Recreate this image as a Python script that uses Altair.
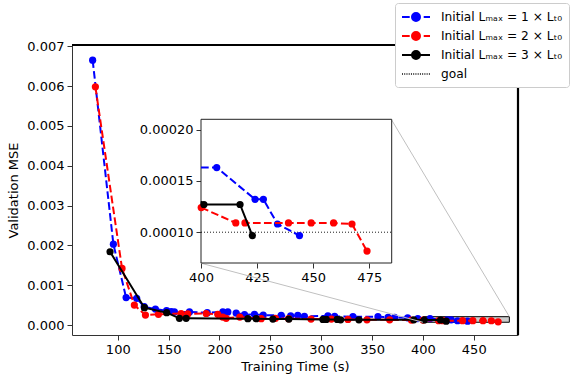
import altair as alt
import pandas as pd

# ---------------- data ----------------
t1 = [75.3, 95.7, 108.2, 118.6, 126.0, 137.0, 148.0, 152.5, 155.7, 170.5, 188.0, 203.3, 208.2,
      216.4, 224.6, 234.4, 243.0, 260.7, 270.0, 277.0, 283.5, 306.6, 313.2, 331.2, 355.8, 365.7,
      372.2, 385.0, 395.0, 407.0, 424.1, 427.8, 434.1, 443.9]
v1 = [0.00665, 0.00203, 0.00069, 0.00067, 0.00046, 0.00040, 0.00036, 0.00034, 0.00033, 0.00033,
      0.00031, 0.00033, 0.00033, 0.00030, 0.00026, 0.00027, 0.00025, 0.00024, 0.00023, 0.00024,
      0.00022, 0.00023, 0.00022, 0.00021, 0.00021, 0.000195, 0.000195, 0.00018, 0.000163,
      0.000163, 0.000132, 0.000132, 0.000108, 0.0000967]

t2 = [78.0, 104.2, 116.3, 127.2, 140.0, 162.3, 168.8, 186.9, 198.3, 203.2, 206.6, 220.0, 241.0,
      255.0, 268.0, 290.0, 310.0, 326.3, 345.0, 367.3, 388.7, 400.1, 415.5, 419.6, 439.0, 449.1,
      459.1, 467.3, 474.0]
v2 = [0.00598, 0.00142, 0.00050, 0.00025, 0.00027, 0.00029, 0.00028, 0.00029, 0.00027, 0.00020,
      0.00017, 0.00020, 0.00016, 0.00017, 0.00016, 0.00015, 0.00015, 0.00014, 0.00013, 0.00013,
      0.000125, 0.000124, 0.000109, 0.000109, 0.000109, 0.000109, 0.000109, 0.000108, 0.0000816]

t3 = [92.4, 126.2, 148.1, 160.6, 167.2, 227.9, 236.1, 252.5, 268.2, 301.7, 305.0, 315.8, 319.1,
      337.1, 391.0, 401.3, 417.4, 422.9]
v3 = [0.00184, 0.000435, 0.00031, 0.000168, 0.000168, 0.00016, 0.00016, 0.00015, 0.00015,
      0.00014, 0.00014, 0.00014, 0.00013, 0.00013, 0.00013, 0.000127, 0.000127, 0.0000967]

series_names = ["Initial Lₘₐₓ = 1 × Lₜ₀", "Initial Lₘₐₓ = 2 × Lₜ₀", "Initial Lₘₐₓ = 3 × Lₜ₀"]
goal_label = "goal"
goal_value = 0.0001
colors = ["#0000ff", "#ff0000", "#000000"]
dashes = [[7.7, 3.3], [7.7, 3.3], None]

x_ticks_main = [100, 150, 200, 250, 300, 350, 400, 450]
y_ticks_main = [0.000, 0.001, 0.002, 0.003, 0.004, 0.005, 0.006, 0.007]
x_ticks_inset = [400, 425, 450, 475]
y_ticks_inset = [0.00010, 0.00015, 0.00020]

main_xlim = [55, 493.5]
main_ylim = [-0.00025, 0.00703]
inset_xlim = [400, 485]
inset_ylim = [0.00007, 0.00021]

rows = []
for name, ts, vs in zip(series_names, [t1, t2, t3], [v1, v2, v3]):
    for t, v in zip(ts, vs):
        rows.append({"t": t, "mse": v, "series": name})
df = pd.DataFrame(rows)

FONT = "DejaVu Sans"
W, H = 446, 290

# ---------------- scales / axes ----------------
xs_main = alt.Scale(domain=main_xlim, nice=False, zero=False)
ys_main = alt.Scale(domain=main_ylim, nice=False, zero=False)
ax_main_x = alt.Axis(orient="bottom", values=x_ticks_main, format="d", grid=False,
                     title="Training Time (s)", domainColor="#333", tickColor="#333",
                     tickSize=5, labelPadding=3, titlePadding=4, labelFlush=False)
ax_main_y = alt.Axis(orient="left", values=y_ticks_main, format=".3f", grid=False,
                     title="Validation MSE", domainColor="#333", tickColor="#333",
                     tickSize=5, labelPadding=3, titlePadding=6, labelFlush=False)

# inset placed inside the plot area through its own scale ranges
xs_in = alt.Scale(domain=inset_xlim, range=[129, 319.7], nice=False, zero=False, clamp=True)
ys_in = alt.Scale(domain=inset_ylim, range=[218, 74.3], nice=False, zero=False, clamp=True)
ax_in_x = alt.Axis(orient="bottom", offset=-72, values=x_ticks_inset, format="d", grid=False,
                   title=None, domain=False, tickColor="#333", tickSize=5, labelPadding=3,
                   labelFlush=False)
ax_in_y = alt.Axis(orient="left", offset=-129, values=y_ticks_inset, format=".5f", grid=False,
                   title=None, domain=False, tickColor="#333", tickSize=5, labelPadding=3,
                   labelFlush=False)

base = alt.Chart(df)

def X(scale, axis, field="t"):
    return alt.X(field, type="quantitative", scale=scale, axis=axis)

def Y(scale, axis, field="mse"):
    return alt.Y(field, type="quantitative", scale=scale, axis=axis)

# ---------------- main panel ----------------
zoom_rect = alt.Chart(pd.DataFrame({"a": [0]})).mark_rect(
    fill="#cccccc", stroke="#000000", strokeWidth=1
).encode(
    x=alt.XDatum(inset_xlim[0], scale=xs_main, axis=ax_main_x),
    x2=alt.X2Datum(inset_xlim[1]),
    y=alt.YDatum(inset_ylim[0], scale=ys_main, axis=ax_main_y),
    y2=alt.Y2Datum(inset_ylim[1]),
)

main_series = []
for name, col, dash in zip(series_names, colors, dashes):
    sub = base.transform_filter(alt.datum.series == name)
    lkw = dict(color=col, strokeWidth=2, clip=True)
    if dash:
        lkw["strokeDash"] = dash
    main_series.append(sub.mark_line(**lkw).encode(
        x=X(xs_main, ax_main_x), y=Y(ys_main, ax_main_y), order="t:Q"))
    main_series.append(sub.mark_point(filled=True, color=col, size=52, opacity=1, clip=True).encode(
        x=X(xs_main, ax_main_x), y=Y(ys_main, ax_main_y)))

# connectors from inset corners to the zoom rectangle (expressed in main-data units)
conn_df = pd.DataFrame({
    "x1": [369.0, 181.3], "y1": [0.00516, 0.001556],
    "x2": [inset_xlim[1], inset_xlim[0]], "y2": [inset_ylim[1], inset_ylim[0]],
})
connectors = alt.Chart(conn_df).mark_rule(color="#c0c0c0", strokeWidth=1).encode(
    x=X(xs_main, ax_main_x, "x1"), y=Y(ys_main, ax_main_y, "y1"),
    x2="x2:Q", y2="y2:Q")

spine_top = alt.Chart(pd.DataFrame({"a": [0]})).mark_rule(color="#000", strokeWidth=2.2).encode(
    x=alt.XDatum(main_xlim[0], scale=xs_main, axis=ax_main_x), x2=alt.X2Datum(main_xlim[1]),
    y=alt.YDatum(main_ylim[1], scale=ys_main, axis=ax_main_y))
spine_right = alt.Chart(pd.DataFrame({"a": [0]})).mark_rule(color="#000", strokeWidth=2.2).encode(
    x=alt.XDatum(main_xlim[1], scale=xs_main, axis=ax_main_x),
    y=alt.YDatum(main_ylim[0], scale=ys_main, axis=ax_main_y), y2=alt.Y2Datum(main_ylim[1]))

# ---------------- legend (carried by clipped, off-domain points) ----------------
# symbol size 196 -> 1 path unit = 7 px; paths span -2..2 (28 px)
circle = "M0.57,0A0.57,0.57,0,1,1,-0.57,0A0.57,0.57,0,1,1,0.57,0Z"
dashed_path = "M-2,0L-0.9,0M1.1,0L2,0" + circle
solid_path = "M-2,0L2,0" + circle
dots = ""
k = -2.0
while k < 2.0:
    dots += "M%.3f,0L%.3f,0" % (k, k + 0.14)
    k += 0.32
legend_names = series_names + [goal_label]
legend_df = pd.DataFrame({"t": [1000] * 4, "mse": [0.0] * 4, "series": legend_names})
leg_colors = colors + ["#444444"]
legend_layer = alt.Chart(legend_df).mark_point(filled=False, opacity=1, clip=True).encode(
    x=X(xs_main, ax_main_x), y=Y(ys_main, ax_main_y),
    stroke=alt.Stroke("series:N", scale=alt.Scale(domain=legend_names, range=leg_colors),
                      legend=alt.Legend(title=None, orient="none", legendX=323, legendY=-42,
                                        symbolSize=196, symbolOffset=7, labelOffset=17,
                                        rowPadding=3, padding=6, fillColor="#ffffff",
                                        strokeColor="#cccccc", cornerRadius=3,
                                        labelFontSize=12.2, labelFont=FONT, labelColor="#000")),
    fill=alt.Fill("series:N", scale=alt.Scale(domain=legend_names, range=leg_colors)),
    shape=alt.Shape("series:N", scale=alt.Scale(domain=legend_names,
                                                range=[dashed_path, dashed_path, solid_path, dots])),
    strokeWidth=alt.StrokeWidth("series:N", scale=alt.Scale(domain=legend_names, range=[2, 2, 2, 1])),
)

main = alt.layer(zoom_rect, *main_series, connectors, spine_top, spine_right, legend_layer)

# ---------------- inset ----------------
inset_bg = alt.Chart(pd.DataFrame({"a": [0]})).mark_rect(
    fill="#ffffff", stroke="#222222", strokeWidth=1
).encode(
    x=alt.XDatum(inset_xlim[0], scale=xs_in, axis=ax_in_x), x2=alt.X2Datum(inset_xlim[1]),
    y=alt.YDatum(inset_ylim[0], scale=ys_in, axis=ax_in_y), y2=alt.Y2Datum(inset_ylim[1]),
)
goal_in = alt.Chart(pd.DataFrame({"a": [0]})).mark_rule(
    color="#000000", strokeWidth=0.9, strokeDash=[1, 2]
).encode(
    x=alt.XDatum(inset_xlim[0], scale=xs_in, axis=ax_in_x), x2=alt.X2Datum(inset_xlim[1]),
    y=alt.YDatum(goal_value, scale=ys_in, axis=ax_in_y))

inset_series = []
for name, col, dash in zip(series_names, colors, dashes):
    sub = base.transform_filter(alt.datum.series == name)
    lkw = dict(color=col, strokeWidth=2)
    if dash:
        lkw["strokeDash"] = dash
    inset_series.append(sub.transform_filter(alt.datum.t >= 390).mark_line(**lkw).encode(
        x=X(xs_in, ax_in_x), y=Y(ys_in, ax_in_y), order="t:Q"))
    inset_series.append(sub.transform_filter(alt.datum.t >= 399.5).mark_point(
        filled=True, color=col, size=52, opacity=1).encode(
        x=X(xs_in, ax_in_x), y=Y(ys_in, ax_in_y)))

inset = alt.layer(inset_bg, goal_in, *inset_series)

chart = alt.layer(main, inset).resolve_scale(
    x="independent", y="independent"
).properties(
    width=W, height=H,
    background="#ffffff",
    autosize=alt.AutoSizeParams(type="none"),
    padding={"left": 72, "top": 45, "right": 52, "bottom": 46},
).configure_view(stroke=None).configure_axis(
    labelFont=FONT, titleFont=FONT, labelFontSize=13, titleFontSize=13,
    titleFontWeight="normal", labelColor="#000", titleColor="#000",
)

chart.save("out.html", embed_options={"renderer": "svg", "actions": False})
